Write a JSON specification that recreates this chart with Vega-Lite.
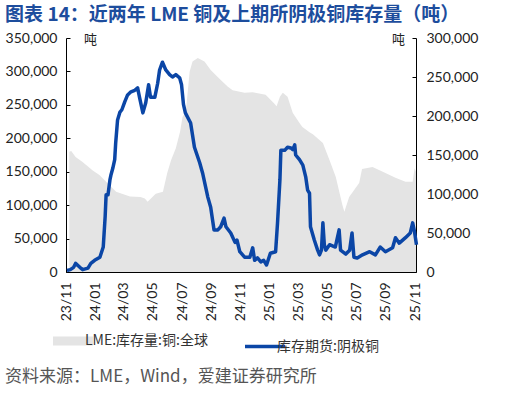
{
  "$schema": "https://vega.github.io/schema/vega-lite/v6.json",
  "autosize": {"type": "pad"},
  "padding": {"left": 5, "top": 6, "right": 6, "bottom": 2},
  "background": "#ffffff",
  "title": {
    "text": "图表 14：近两年 LME 铜及上期所阴极铜库存量（吨）",
    "anchor": "start",
    "font": "Noto Sans CJK SC",
    "fontSize": 19,
    "fontWeight": "bold",
    "color": "#1d4d9d",
    "offset": 6
  },
  "datasets": {
    "lme": [
      {"date": "2023-11-08", "v": 180000}, {"date": "2023-11-12", "v": 181000},
      {"date": "2023-11-21", "v": 172000}, {"date": "2023-12-05", "v": 165000},
      {"date": "2023-12-27", "v": 152000}, {"date": "2024-01-10", "v": 145000},
      {"date": "2024-01-24", "v": 135000}, {"date": "2024-02-14", "v": 120000},
      {"date": "2024-03-14", "v": 113000}, {"date": "2024-04-05", "v": 112000},
      {"date": "2024-04-14", "v": 110000}, {"date": "2024-04-20", "v": 105000},
      {"date": "2024-05-07", "v": 117000}, {"date": "2024-05-22", "v": 120000},
      {"date": "2024-05-31", "v": 148000}, {"date": "2024-06-08", "v": 167000},
      {"date": "2024-06-18", "v": 185000}, {"date": "2024-06-27", "v": 210000},
      {"date": "2024-07-02", "v": 232000}, {"date": "2024-07-09", "v": 240000},
      {"date": "2024-07-17", "v": 300000}, {"date": "2024-07-23", "v": 315000},
      {"date": "2024-08-03", "v": 320000}, {"date": "2024-08-17", "v": 315000},
      {"date": "2024-08-30", "v": 302000}, {"date": "2024-09-20", "v": 287000},
      {"date": "2024-10-05", "v": 277000}, {"date": "2024-10-15", "v": 272000},
      {"date": "2024-11-09", "v": 268000}, {"date": "2024-11-26", "v": 269000},
      {"date": "2024-12-23", "v": 265000}, {"date": "2025-01-10", "v": 252000},
      {"date": "2025-01-15", "v": 248000}, {"date": "2025-01-22", "v": 262000},
      {"date": "2025-01-28", "v": 268000}, {"date": "2025-02-07", "v": 262000},
      {"date": "2025-02-18", "v": 238000}, {"date": "2025-03-04", "v": 223000},
      {"date": "2025-03-10", "v": 217000}, {"date": "2025-03-25", "v": 209000},
      {"date": "2025-04-01", "v": 206000}, {"date": "2025-04-22", "v": 193000},
      {"date": "2025-05-06", "v": 167000}, {"date": "2025-05-19", "v": 142000},
      {"date": "2025-06-02", "v": 100000}, {"date": "2025-06-06", "v": 90000},
      {"date": "2025-06-16", "v": 112000}, {"date": "2025-07-07", "v": 133000},
      {"date": "2025-07-13", "v": 154000}, {"date": "2025-08-04", "v": 157000},
      {"date": "2025-08-31", "v": 148000}, {"date": "2025-09-21", "v": 141000},
      {"date": "2025-10-12", "v": 135000}, {"date": "2025-10-27", "v": 135000},
      {"date": "2025-10-31", "v": 155000}, {"date": "2025-11-03", "v": 150000}
    ],
    "shfe": [
      {"date": "2023-11-03", "v": 2000}, {"date": "2023-11-10", "v": 3000},
      {"date": "2023-11-17", "v": 6000}, {"date": "2023-11-21", "v": 11000},
      {"date": "2023-11-30", "v": 6000}, {"date": "2023-12-06", "v": 3000},
      {"date": "2023-12-17", "v": 5000}, {"date": "2023-12-23", "v": 11000},
      {"date": "2023-12-31", "v": 15000}, {"date": "2024-01-11", "v": 19000},
      {"date": "2024-01-18", "v": 32000}, {"date": "2024-01-22", "v": 71000},
      {"date": "2024-01-24", "v": 99000}, {"date": "2024-01-28", "v": 99000},
      {"date": "2024-02-01", "v": 118000}, {"date": "2024-02-03", "v": 124000},
      {"date": "2024-02-07", "v": 133000}, {"date": "2024-02-11", "v": 144000},
      {"date": "2024-02-13", "v": 165000}, {"date": "2024-02-17", "v": 195000},
      {"date": "2024-02-22", "v": 205000}, {"date": "2024-02-26", "v": 208000},
      {"date": "2024-03-03", "v": 218000}, {"date": "2024-03-09", "v": 227000},
      {"date": "2024-03-16", "v": 231000}, {"date": "2024-03-24", "v": 233000},
      {"date": "2024-03-30", "v": 236000}, {"date": "2024-04-03", "v": 224000},
      {"date": "2024-04-10", "v": 204000}, {"date": "2024-04-16", "v": 217000},
      {"date": "2024-04-22", "v": 240000}, {"date": "2024-04-26", "v": 224000},
      {"date": "2024-05-05", "v": 224000}, {"date": "2024-05-11", "v": 242000},
      {"date": "2024-05-15", "v": 259000}, {"date": "2024-05-21", "v": 269000},
      {"date": "2024-05-28", "v": 259000}, {"date": "2024-06-05", "v": 253000},
      {"date": "2024-06-11", "v": 250000}, {"date": "2024-06-18", "v": 253000},
      {"date": "2024-06-26", "v": 249000}, {"date": "2024-06-30", "v": 240000},
      {"date": "2024-07-04", "v": 215000}, {"date": "2024-07-08", "v": 204000},
      {"date": "2024-07-19", "v": 191000}, {"date": "2024-07-27", "v": 160000},
      {"date": "2024-08-07", "v": 140000}, {"date": "2024-08-13", "v": 127000},
      {"date": "2024-08-24", "v": 96000}, {"date": "2024-08-30", "v": 83000},
      {"date": "2024-09-06", "v": 54000}, {"date": "2024-09-14", "v": 54000},
      {"date": "2024-09-20", "v": 58000}, {"date": "2024-09-27", "v": 69000},
      {"date": "2024-10-01", "v": 58000}, {"date": "2024-10-11", "v": 50000},
      {"date": "2024-10-20", "v": 38000}, {"date": "2024-10-24", "v": 41000},
      {"date": "2024-10-30", "v": 26000}, {"date": "2024-11-09", "v": 19000},
      {"date": "2024-11-20", "v": 19000}, {"date": "2024-11-26", "v": 31000},
      {"date": "2024-11-30", "v": 15000}, {"date": "2024-12-06", "v": 18000},
      {"date": "2024-12-13", "v": 13000}, {"date": "2024-12-19", "v": 15000},
      {"date": "2024-12-25", "v": 9000}, {"date": "2025-01-02", "v": 24000},
      {"date": "2025-01-13", "v": 26000}, {"date": "2025-01-17", "v": 63000},
      {"date": "2025-01-22", "v": 118000}, {"date": "2025-01-24", "v": 156000},
      {"date": "2025-02-01", "v": 156000}, {"date": "2025-02-07", "v": 160000},
      {"date": "2025-02-14", "v": 159000}, {"date": "2025-02-18", "v": 157000},
      {"date": "2025-02-22", "v": 163000}, {"date": "2025-02-24", "v": 150000},
      {"date": "2025-03-04", "v": 144000}, {"date": "2025-03-11", "v": 137000},
      {"date": "2025-03-17", "v": 122000}, {"date": "2025-03-21", "v": 105000},
      {"date": "2025-03-25", "v": 101000}, {"date": "2025-03-27", "v": 58000},
      {"date": "2025-04-04", "v": 41000}, {"date": "2025-04-11", "v": 28000},
      {"date": "2025-04-15", "v": 22000}, {"date": "2025-04-19", "v": 28000},
      {"date": "2025-04-22", "v": 63000}, {"date": "2025-04-25", "v": 35000},
      {"date": "2025-04-28", "v": 28000}, {"date": "2025-05-06", "v": 35000},
      {"date": "2025-05-18", "v": 32000}, {"date": "2025-05-26", "v": 54000},
      {"date": "2025-05-29", "v": 28000}, {"date": "2025-06-09", "v": 23000},
      {"date": "2025-06-17", "v": 28000}, {"date": "2025-06-22", "v": 50000},
      {"date": "2025-06-26", "v": 19000}, {"date": "2025-07-03", "v": 18000},
      {"date": "2025-07-14", "v": 22000}, {"date": "2025-07-29", "v": 26000},
      {"date": "2025-08-10", "v": 22000}, {"date": "2025-08-20", "v": 32000},
      {"date": "2025-08-31", "v": 26000}, {"date": "2025-09-15", "v": 31000},
      {"date": "2025-09-21", "v": 44000}, {"date": "2025-09-29", "v": 37000},
      {"date": "2025-10-12", "v": 44000}, {"date": "2025-10-22", "v": 50000},
      {"date": "2025-10-27", "v": 63000}, {"date": "2025-10-31", "v": 51000},
      {"date": "2025-11-04", "v": 35000}
    ]
  },
  "resolve": {"legend": {"color": "independent"}},
  "vconcat": [
    {
      "width": 350,
      "height": 234,
      "title": {
        "text": "资料来源：LME，Wind，爱建证券研究所",
        "orient": "bottom",
        "anchor": "start",
        "font": "Noto Sans CJK SC",
        "fontSize": 17,
        "fontWeight": "normal",
        "color": "#555555",
        "offset": 10
      },
      "encoding": {
        "x": {
          "field": "date",
          "type": "temporal",
          "scale": {
            "type": "utc",
            "domain": [
              {"year": 2023, "month": 11, "date": 1, "utc": true},
              {"year": 2025, "month": 11, "date": 3, "utc": true}
            ]
          },
          "axis": {
            "title": null,
            "values": [
              {"year": 2023, "month": 11, "date": 1, "utc": true},
              {"year": 2024, "month": 1, "date": 1, "utc": true},
              {"year": 2024, "month": 3, "date": 1, "utc": true},
              {"year": 2024, "month": 5, "date": 1, "utc": true},
              {"year": 2024, "month": 7, "date": 1, "utc": true},
              {"year": 2024, "month": 9, "date": 1, "utc": true},
              {"year": 2024, "month": 11, "date": 1, "utc": true},
              {"year": 2025, "month": 1, "date": 1, "utc": true},
              {"year": 2025, "month": 3, "date": 1, "utc": true},
              {"year": 2025, "month": 5, "date": 1, "utc": true},
              {"year": 2025, "month": 7, "date": 1, "utc": true},
              {"year": 2025, "month": 9, "date": 1, "utc": true},
              {"year": 2025, "month": 11, "date": 1, "utc": true}
            ],
            "labelExpr": "utcFormat(datum.value, '%y/%m')",
            "labelAngle": 270,
            "labelOverlap": false,
            "labelPadding": 14,
            "tickSize": -4
          }
        }
      },
      "layer": [
        {
          "data": {"name": "lme"},
          "mark": {"type": "area", "interpolate": "linear"},
          "encoding": {
            "y": {
              "field": "v",
              "type": "quantitative",
              "scale": {"domain": [0, 350000], "nice": false, "zero": true},
              "axis": {
                "orient": "left",
                "values": [0, 50000, 100000, 150000, 200000, 250000, 300000, 350000],
                "labelExpr": "format(datum.value, ',')",
                "labelOverlap": false,
                "tickSize": -4,
                "labelPadding": 13,
                "title": "吨",
                "titleAngle": 0,
                "titleX": 24,
                "titleY": 1,
                "titleAlign": "center",
                "titleBaseline": "middle"
              }
            },
            "color": {
              "datum": "LME:库存量:铜:全球",
              "type": "nominal",
              "legend": {
                "title": null,
                "symbolType": "stroke",
                "symbolSize": 1600,
                "columnPadding": 30,
                "encode": {
                  "symbols": {
                    "update": {
                      "size": {"value": 1600},
                      "fill": {"value": "transparent"},
                      "stroke": {"signal": "datum.value === 'LME:库存量:铜:全球' ? '#e4e4e4' : '#0b46a6'"},
                      "strokeWidth": {"signal": "datum.value === 'LME:库存量:铜:全球' ? 9 : 3.5"}
                    }
                  }
                }
              }
            }
          }
        },
        {
          "data": {"name": "shfe"},
          "mark": {"type": "line", "strokeWidth": 3.5, "strokeJoin": "round", "interpolate": "linear"},
          "encoding": {
            "y": {
              "field": "v",
              "type": "quantitative",
              "scale": {"domain": [0, 300000], "nice": false, "zero": true},
              "axis": {
                "orient": "right",
                "values": [0, 50000, 100000, 150000, 200000, 250000, 300000],
                "labelExpr": "format(datum.value, ',')",
                "labelOverlap": false,
                "tickSize": -4,
                "labelPadding": 14,
                "title": "吨",
                "titleAngle": 0,
                "titleX": -18,
                "titleY": 1,
                "titleAlign": "center",
                "titleBaseline": "middle"
              }
            },
            "color": {"datum": "库存期货:阴极铜", "type": "nominal"}
          }
        }
      ],
      "resolve": {"scale": {"y": "independent"}}
    }
  ],
  "config": {
    "view": {"stroke": null},
    "range": {"category": ["#e4e4e4", "#0b46a6"]},
    "axis": {
      "grid": false,
      "domainColor": "#000000",
      "domainWidth": 1,
      "tickColor": "#000000",
      "tickWidth": 1,
      "labelFont": "Lato",
      "labelFontSize": 14,
      "labelColor": "#222222",
      "titleFont": "Noto Sans CJK SC",
      "titleFontSize": 13,
      "titleFontWeight": "normal",
      "titleColor": "#222222"
    },
    "legend": {
      "orient": "bottom",
      "direction": "horizontal",
      "offset": 13,
      "columnPadding": 30,
      "labelOffset": 5,
      "labelFont": "Noto Sans CJK SC",
      "labelFontSize": 14,
      "labelColor": "#333333"
    }
  }
}
